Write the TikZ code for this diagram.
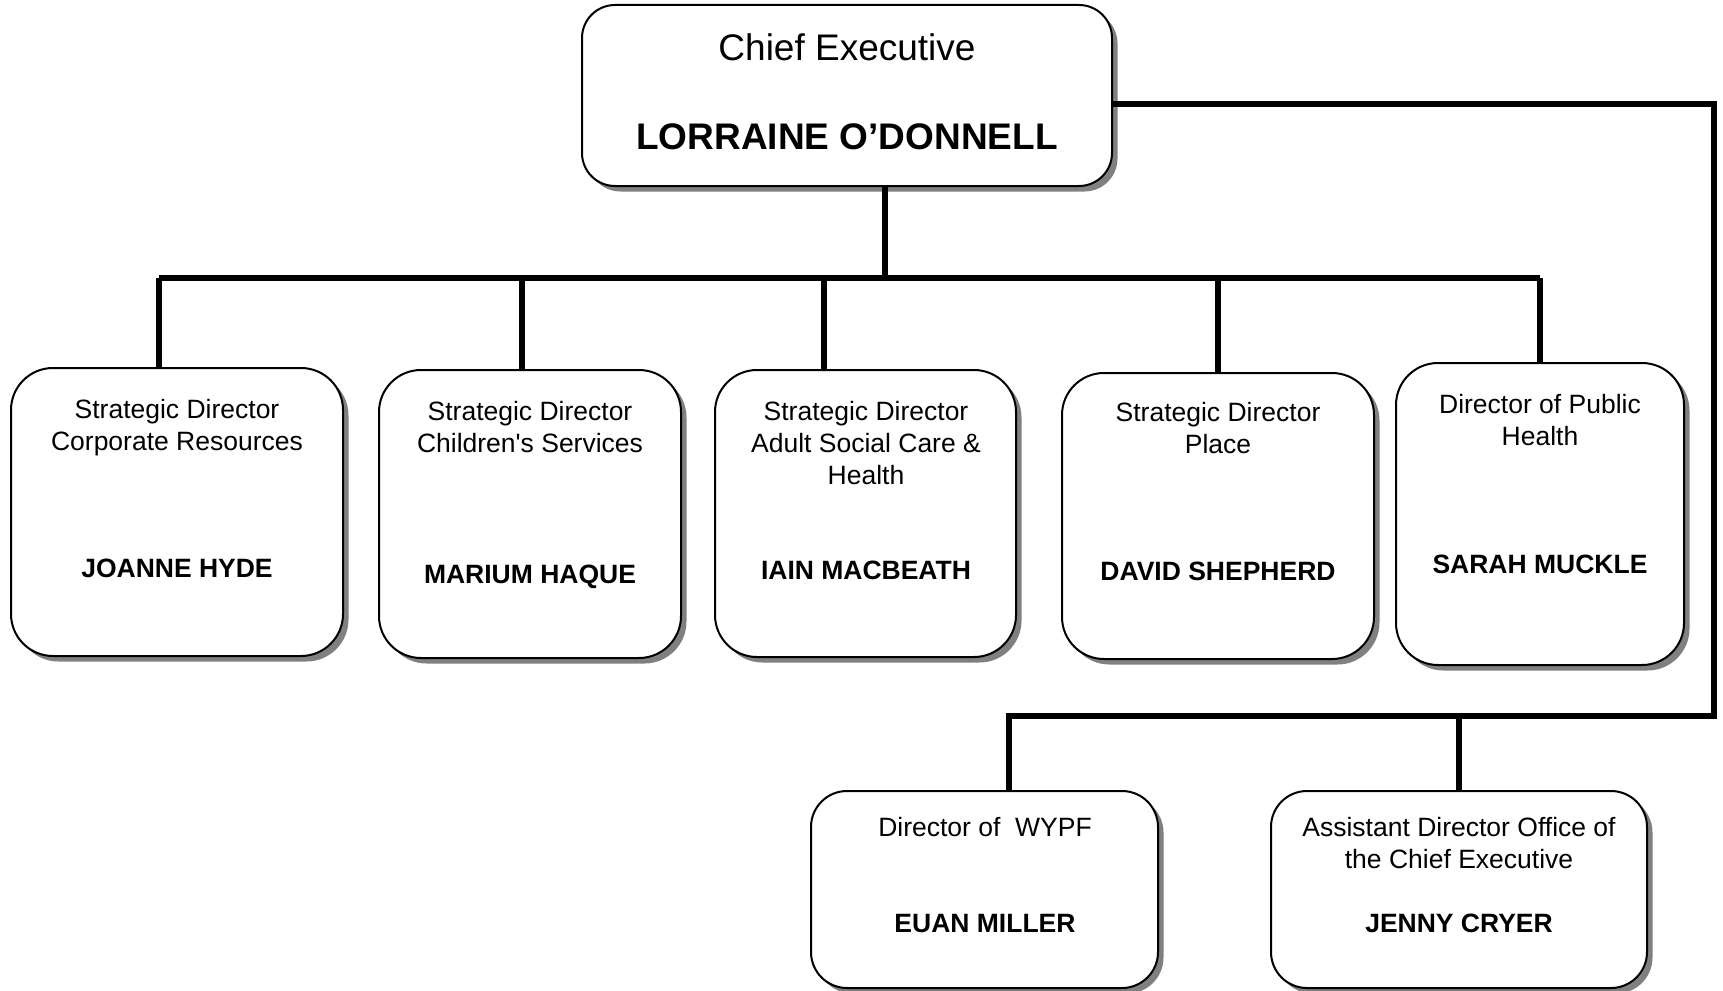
\documentclass[tikz,border=0pt]{standalone}
\usepackage{fontspec}
\setmainfont{Liberation Sans}
\usetikzlibrary{shadows}
\begin{document}
\begin{tikzpicture}[x=1pt,y=-1pt,
  box/.style={draw, line width=2pt, fill=white, rounded corners=#1, inner sep=0pt, outer sep=0pt,
    drop shadow={shadow xshift=5.5pt, shadow yshift=-5.5pt, fill=black!50, opacity=1}},
  conn/.style={line width=6pt, line join=miter},
  ttl/.style={anchor=base, inner sep=0pt, font=\fontsize{26.5}{32}\selectfont},
  nm/.style={anchor=base, inner sep=0pt, font=\bfseries\fontsize{26.5}{32}\selectfont},
  big/.style={anchor=base, inner sep=0pt, font=\fontsize{37}{44}\selectfont},
  bigb/.style={anchor=base, inner sep=0pt, font=\bfseries\fontsize{37}{44}\selectfont}]
\useasboundingbox (0,0) rectangle (1723,990);
\fill[white] (0,0) rectangle (1723,990);

% bus coordinates
\coordinate (top) at (885,278);
\coordinate (b1) at (159,278);
\coordinate (b2) at (522,278);
\coordinate (b3) at (824,278);
\coordinate (b4) at (1218,278);
\coordinate (b5) at (1540,278);
\coordinate (r1) at (1714,104);
\coordinate (r2) at (1714,716);
\coordinate (c6) at (1009,716);
\coordinate (c7) at (1459,716);

% boxes
\node[box=33pt, minimum width=530pt, minimum height=181pt] (ceo) at (847,95.5) {};
\node[box=42pt, minimum width=332pt, minimum height=288pt] (d1) at (177,512) {};
\node[box=42pt, minimum width=302pt, minimum height=288pt] (d2) at (530,514) {};
\node[box=42pt, minimum width=301pt, minimum height=287pt] (d3) at (865.5,513.5) {};
\node[box=42pt, minimum width=312pt, minimum height=286pt] (d4) at (1218,516) {};
\node[box=42pt, minimum width=288pt, minimum height=302pt] (d5) at (1540,514) {};
\node[box=36pt, minimum width=347pt, minimum height=197pt] (d6) at (984.5,889.5) {};
\node[box=36pt, minimum width=376pt, minimum height=197pt] (d7) at (1459,889.5) {};

% connectors
\draw[conn] (ceo.south -| top) -- (top);
\draw[conn] (b1) -- (b5);
\draw[conn] (b1) -- (b1 |- d1.north);
\draw[conn] (b2) -- (b2 |- d2.north);
\draw[conn] (b3) -- (b3 |- d3.north);
\draw[conn] (b4) -- (b4 |- d4.north);
\draw[conn] (b5) -- (b5 |- d5.north);
\draw[conn] (ceo.east |- r1) -- (r1) -- (r2) -- (c6) -- (c6 |- d6.north);
\draw[conn] (c7) -- (c7 |- d7.north);

% texts
\node[big] (t0a) at (847,60) {Chief Executive};
\node[bigb] (t0b) at (847,149) {LORRAINE O’DONNELL};

\node[ttl] (t1a) at (177,418.5) {Strategic Director};
\node[ttl] (t1b) at (177,450.5) {Corporate Resources};
\node[nm] (t1c) at (177,577.5) {JOANNE HYDE};

\node[ttl] (t2a) at (530,420.5) {Strategic Director};
\node[ttl] (t2b) at (530,452.5) {Children\textquotesingle s Services};
\node[nm] (t2c) at (530,583.5) {MARIUM HAQUE};

\node[ttl] (t3a) at (866,420.5) {Strategic Director};
\node[ttl] (t3b) at (866,452.5) {Adult Social Care \&};
\node[ttl] (t3c) at (866,484.5) {Health};
\node[nm] (t3d) at (866,579.5) {IAIN MACBEATH};

\node[ttl] (t4a) at (1218,421.5) {Strategic Director};
\node[ttl] (t4b) at (1218,453.5) {Place};
\node[nm] (t4c) at (1218,580.5) {DAVID SHEPHERD};

\node[ttl] (t5a) at (1540,413.5) {Director of Public};
\node[ttl] (t5b) at (1540,445.5) {Health};
\node[nm] (t5c) at (1540,573.5) {SARAH MUCKLE};

\node[ttl] (t6a) at (985,836.5) {Director of\ \ WYPF};
\node[nm] (t6b) at (985,932.5) {EUAN MILLER};

\node[ttl] (t7a) at (1459,836.5) {Assistant Director Office of};
\node[ttl] (t7b) at (1459,868.5) {the Chief Executive};
\node[nm] (t7c) at (1459,932.5) {JENNY CRYER};
\end{tikzpicture}
\end{document}
